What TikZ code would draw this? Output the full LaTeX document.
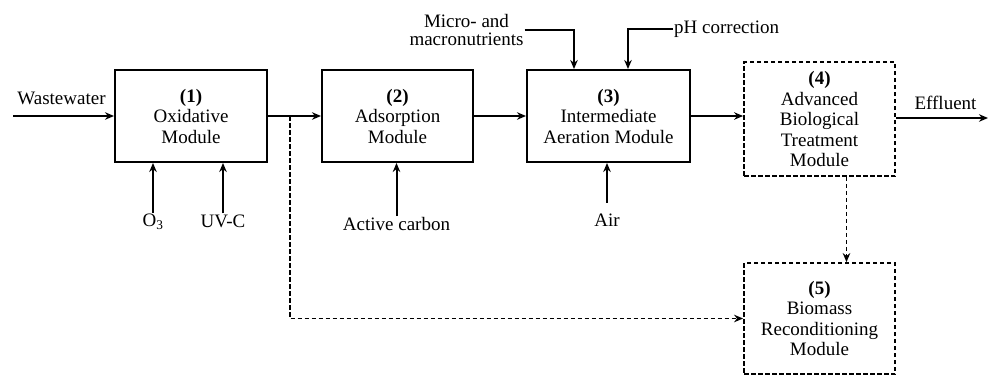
\documentclass[tikz,border=0pt]{standalone}
\usepackage{fontspec}
\setmainfont{Liberation Serif}
\usetikzlibrary{arrows.meta, positioning}

\begin{document}
\begin{tikzpicture}[
        x=1pt, y=-1pt,
        module/.style={
            rectangle,
            draw=black,
            line width=2pt,
            minimum width=152pt,
            minimum height=92pt,
            align=center,
            inner sep=2pt,
            font=\fontsize{19}{20.5}\selectfont
        },
        optmodule/.style={
            module,
            line width=1.8pt,
            dash pattern=on 4.5pt off 2.5pt
        },
        lbl/.style={inner sep=1pt, align=center, font=\fontsize{19}{17.5}\selectfont},
        arrow/.style={-{Stealth[length=9pt,width=7.5pt]}, line width=2pt},
        dasharrow/.style={arrow, line width=1.8pt, dash pattern=on 4.5pt off 2.5pt}
    ]

    \useasboundingbox (0,0) rectangle (989,376);

    \node (oxid) [module] at (191,116) {\textbf{(1)}\\Oxidative\\Module};
    \node (adsorp) [module, minimum width=151pt] at (397.5,116) {\textbf{(2)}\\Adsorption\\Module};
    \node (aer) [module, minimum width=163pt] at (608.5,116) {\textbf{(3)}\\Intermediate\\Aeration Module};
    \node (bio) [optmodule, minimum width=151pt, minimum height=114pt] at (819.5,119) {\textbf{(4)}\\Advanced\\Biological\\Treatment\\Module};
    \node (biomass) [optmodule, minimum width=151pt, minimum height=111pt] at (819.5,318.5) {\textbf{(5)}\\Biomass\\Reconditioning\\Module};

    \node (wwlbl) [lbl] at (61.5,98) {Wastewater};
    \node (efflbl) [lbl] at (945.5,103) {Effluent};
    \node (ozone) [lbl] at (153,222) {O\textsubscript{3}};
    \node (uvc) [lbl] at (223,221) {UV-C};
    \node (carbon) [lbl] at (396.5,224) {Active carbon};
    \node (air) [lbl] at (607,220) {Air};
    \node (nutr) [lbl] at (466.5,30) {Micro- and\\macronutrients};
    \node (ph) [lbl, anchor=west] at (673,29) {pH correction};

    \coordinate (wwin) at (13,116);
    \coordinate (effout) at (988,118);
    \coordinate (split) at (290,116);

    \draw [arrow] (wwin) -- (oxid.west);
    \draw [arrow] (oxid.east) -- (adsorp.west);
    \draw [arrow] (adsorp.east) -- (aer.west);
    \draw [arrow] (aer.east) -- (aer.east -| bio.west);
    \draw [arrow] (bio.east |- effout) -- (effout);

    \draw [arrow] (ozone.north) -- (ozone.north |- oxid.south);
    \draw [arrow] (uvc.north) -- (uvc.north |- oxid.south);
    \draw [arrow] (carbon.north) -- (carbon.north |- adsorp.south);
    \draw [arrow] ([yshift=10pt]air.north) -- (air.north |- aer.south);
    \draw [arrow] (nutr.east) -| ([xshift=-34.5pt]aer.north);
    \draw [arrow] (ph.west) -| ([xshift=19.5pt]aer.north);

    \draw [dasharrow] ([xshift=27pt]bio.south) -- ([xshift=27pt]biomass.north);
    \draw [dasharrow] (split) |- (biomass.west);

\end{tikzpicture}
\end{document}
